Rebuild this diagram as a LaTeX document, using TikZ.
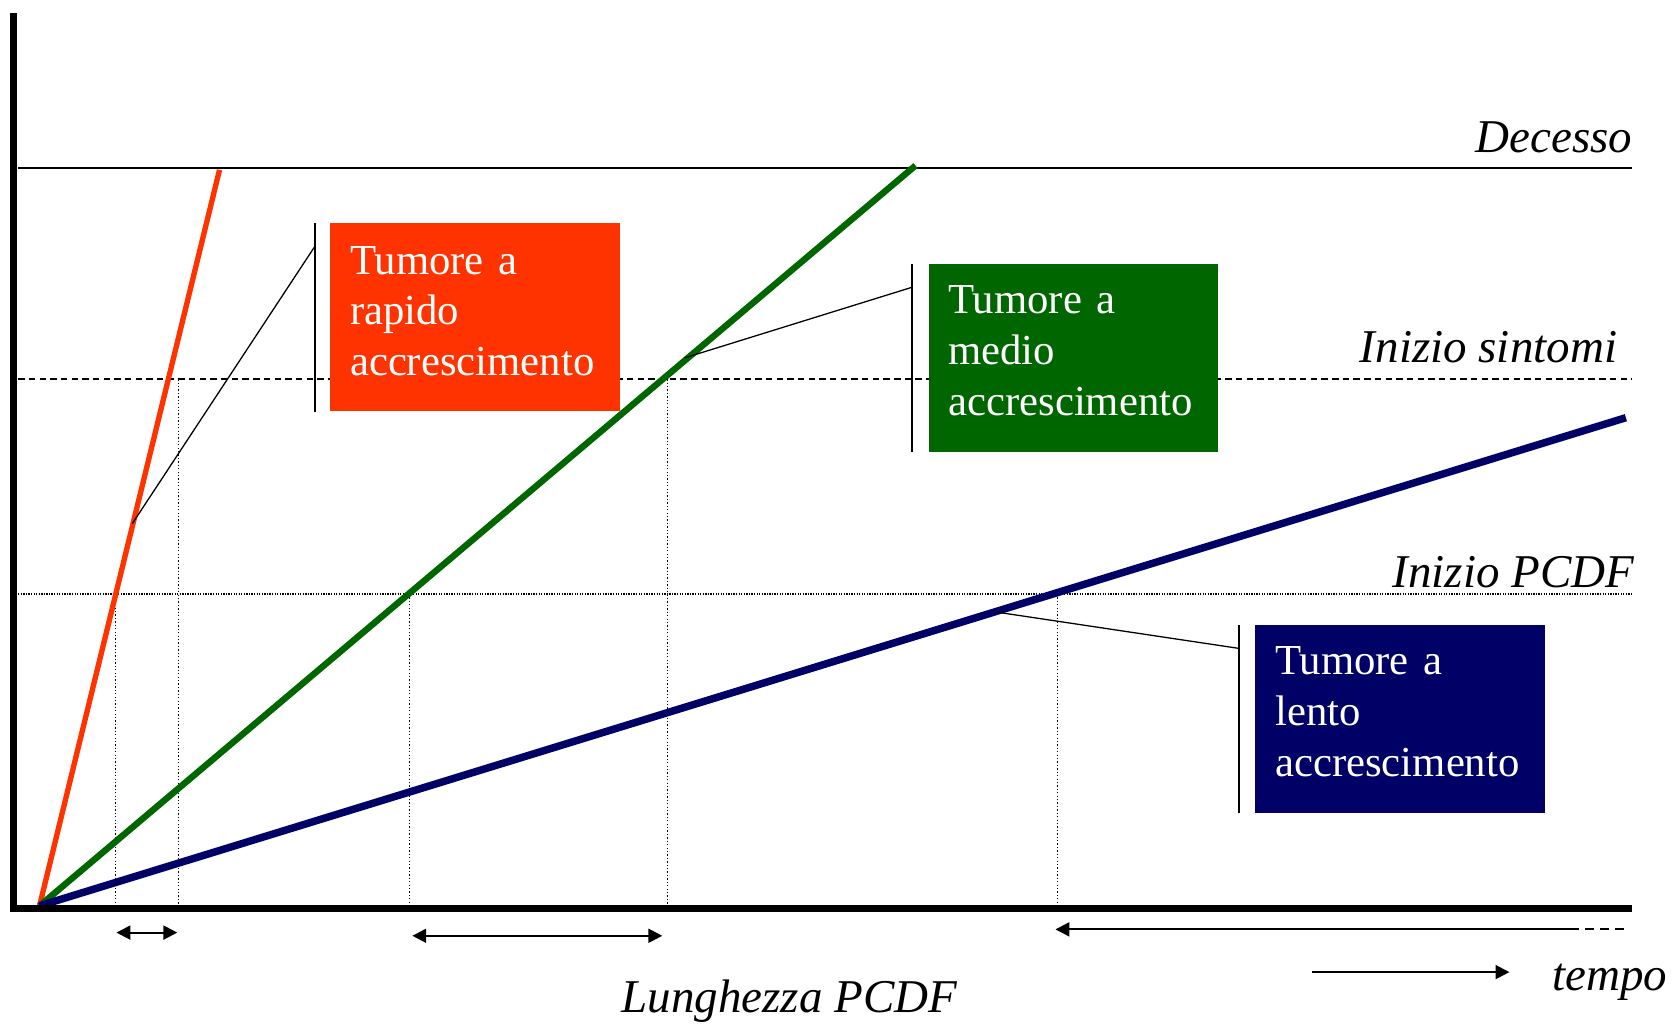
\documentclass[tikz,border=0pt]{standalone}
\usepackage{fontspec}
\setmainfont{Liberation Serif}
\usetikzlibrary{arrows.meta}
\definecolor{fastred}{HTML}{FF3300}
\definecolor{midgreen}{HTML}{006600}
\definecolor{slownavy}{HTML}{000066}
\begin{document}
\begin{tikzpicture}[x=1pt,y=-1pt,
  axisline/.style={line width=7pt},
  deathline/.style={line width=1.6pt},
  symptomline/.style={line width=1.5pt, dash pattern=on 6pt off 4pt},
  onsetline/.style={line width=1.2pt, dash pattern=on 1.2pt off 1.2pt},
  guideline/.style={line width=1.2pt, dash pattern=on 1.2pt off 2pt},
  growth/.style={line cap=butt},
  levellabel/.style={inner sep=0pt, font=\itshape\fontsize{44}{52}\selectfont},
  tagbox/.style={anchor=north west, minimum width=271pt, minimum height=176pt, inner sep=0pt, draw=none},
  tagtext/.style={anchor=base west, inner sep=0pt, text=white, text width=262pt, align=left,
    font=\fontsize{40}{47.5}\selectfont},
  bracket/.style={line width=1.8pt},
  leader/.style={line width=1.2pt},
  span/.style={line width=2pt, arrows={Triangle[length=13pt,width=13pt]-Triangle[length=13pt,width=13pt]}},
  span left/.style={line width=2pt, arrows={Triangle[length=13pt,width=13pt]-}},
  span right/.style={line width=2pt, arrows={-Triangle[length=13pt,width=13pt]}}
]
\useasboundingbox (0,0) rectangle (1568,958);

% ---- key points ----
\coordinate (O) at (37,848);
\coordinate (axtop) at (12.5,12);
\coordinate (axbot) at (12.5,854);
\coordinate (axleft) at (9,850.5);
\coordinate (axright) at (1528,850.5);

% ---- threshold levels ----
\coordinate (dec-l) at (17,157);   \coordinate (dec-r) at (1528,157);
\coordinate (sin-l) at (17,355);   \coordinate (sin-r) at (1528,355);
\coordinate (pcdf-l) at (17,556);  \coordinate (pcdf-r) at (1528,556);
\draw[deathline] (dec-l) -- (dec-r);
\draw[symptomline] (sin-l) -- (sin-r);
\draw[onsetline] (pcdf-l) -- (pcdf-r);
\node[levellabel, anchor=base east] (decesso) at (1528,143) {Decesso};
\node[levellabel, anchor=base east] (sintomi) at (1514,339) {Inizio sintomi};
\node[levellabel, anchor=base east] (pcdf) at (1530,550) {Inizio PCDF};

% ---- vertical guides from the crossings down to the time axis ----
\coordinate (g1t) at (108,556);  \coordinate (g1b) at (108,847);
\coordinate (g2t) at (167,355);  \coordinate (g2b) at (167,847);
\coordinate (g3t) at (383,556);  \coordinate (g3b) at (383,847);
\coordinate (g4t) at (625,355);  \coordinate (g4b) at (625,847);
\coordinate (g5t) at (990,556);  \coordinate (g5b) at (990,847);
\foreach \g in {1,...,5} \draw[guideline] (g\g t) -- (g\g b);

% ---- growth lines ----
\coordinate (rtop) at (205.5,159);
\coordinate (gtop) at (857,155);
\coordinate (ntop) at (1522,391);
\draw[growth, fastred, line width=5pt] (O) -- (rtop);
\draw[growth, midgreen, line width=6pt] (O) -- (gtop);
\draw[growth, slownavy, line width=7pt] (O) -- (ntop);

% ---- axes ----
\draw[axisline] (axtop) -- (axbot);
\draw[axisline] (axleft) -- (axright);

% ---- labelled boxes ----
\node[tagbox, fill=fastred] (rapido) at (309,209) {};
\node[tagtext] (rapido-txt) at (327.5,256.5) {Tumore a\\rapido\\accrescimento};
\node[tagbox, fill=midgreen] (medio) at (869,247) {};
\node[tagtext] (medio-txt) at (887.5,293.5) {Tumore a\\medio\\accrescimento};
\node[tagbox, fill=slownavy] (lento) at (1175,585) {};
\node[tagtext] (lento-txt) at (1193.5,631.5) {Tumore a\\lento\\accrescimento};

% ---- brackets and leaders ----
\coordinate (rl) at (124,490);
\coordinate (gl) at (641,335);
\coordinate (bl) at (933,573);
\draw[bracket] ([xshift=-14.5pt]rapido.north west) -- ([xshift=-14.5pt]rapido.south west);
\draw[leader] ([xshift=-14.5pt,yshift=-22pt]rapido.north west) -- (rl);
\draw[bracket] ([xshift=-15.5pt]medio.north west) -- ([xshift=-15.5pt]medio.south west);
\draw[leader] ([xshift=-15.5pt,yshift=-22pt]medio.north west) -- (gl);
\draw[bracket] ([xshift=-15pt]lento.north west) -- ([xshift=-15pt]lento.south west);
\draw[leader] ([xshift=-15pt,yshift=-22pt]lento.north west) -- (bl);

% ---- PCDF length spans ----
\coordinate (s1l) at (109,873);  \coordinate (s1r) at (166,873);
\coordinate (s2l) at (386,876);  \coordinate (s2r) at (620,876);
\coordinate (s3l) at (988,870);  \coordinate (s3m) at (1470,870);  \coordinate (s3r) at (1522,870);
\draw[span] (s1l) -- (s1r);
\draw[span] (s2l) -- (s2r);
\draw[span left] (s3l) -- (s3m);
\draw[line width=2pt, dash pattern=on 8pt off 6pt] (s3m) -- (s3r);
\node[levellabel, anchor=base] (lunghezza) at (739,948) {Lunghezza PCDF};

% ---- time direction ----
\coordinate (t1) at (1228,910);  \coordinate (t2) at (1413,910);
\draw[span right] (t1) -- (t2);
\node[levellabel, anchor=base west] (tempo) at (1453,927) {tempo};
\end{tikzpicture}
\end{document}
